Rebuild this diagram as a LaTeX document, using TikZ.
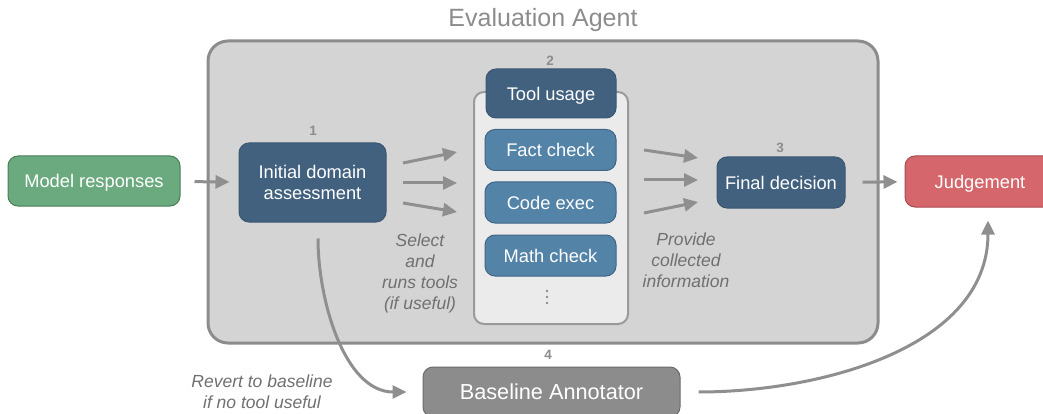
\documentclass[tikz,border=0pt]{standalone}
\usepackage{fontspec}
\setmainfont{Liberation Sans}
\usetikzlibrary{arrows.meta}
\definecolor{agentfill}{HTML}{D4D4D4}
\definecolor{agentedge}{HTML}{8C8C8C}
\definecolor{panelfill}{HTML}{EBEBEB}
\definecolor{paneledge}{HTML}{9A9A9A}
\definecolor{darkblue}{HTML}{41617F}
\definecolor{darkedge}{HTML}{3A5872}
\definecolor{toolblue}{HTML}{5483A8}
\definecolor{tooledge}{HTML}{3F6586}
\definecolor{modelgreen}{HTML}{6AAA7E}
\definecolor{modeledge}{HTML}{4A7D5A}
\definecolor{judgered}{HTML}{D4666C}
\definecolor{judgeedge}{HTML}{A84A50}
\definecolor{basegray}{HTML}{8C8C8C}
\definecolor{baseedge}{HTML}{6B6B6B}
\definecolor{arrowgray}{HTML}{8F8F8F}
\definecolor{notegray}{HTML}{707070}
\begin{document}
\begin{tikzpicture}[x=1pt,y=-1pt,
    box/.style={rounded corners=10pt, text=white, align=center, line width=1pt, text depth=0pt,
      font=\fontsize{18.3}{21}\selectfont},
    darkbox/.style={box, fill=darkblue, draw=darkedge},
    toolbox/.style={box, fill=toolblue, draw=tooledge, minimum width=131pt, minimum height=41pt},
    num/.style={text=agentedge, font=\fontsize{13.5}{13.5}\selectfont\bfseries},
    note/.style={text=notegray, align=center, font=\fontsize{17.5}{21}\selectfont\itshape},
    flow/.style={draw=arrowgray, line width=3pt, -{Triangle[length=14pt,width=13pt]}}]
\useasboundingbox (0,0) rectangle (1043,414);

% agent frame and tool panel
\node [text=agentedge, font=\fontsize{25}{25}\selectfont] (title) at (543,20) {Evaluation Agent};
\draw [fill=agentfill, draw=agentedge, line width=3pt, rounded corners=20pt] (208,41) rectangle (878,343);
\draw [fill=panelfill, draw=paneledge, line width=2pt, rounded corners=10pt] (474,92) rectangle (628,324);

% boxes
\node [box, fill=modelgreen, draw=modeledge, minimum width=172pt, minimum height=50pt] (model) at (94,181) {Model responses};
\node [darkbox, minimum width=147pt, minimum height=79pt] (init) at (312.5,182.5) {Initial domain\\assessment};
\node [darkbox, minimum width=130pt, minimum height=49pt] (tools) at (551,93.5) {Tool usage};
\node [toolbox] (fact) at (550.5,150) {Fact check};
\node [toolbox] (code) at (550.5,202.5) {Code exec};
\node [toolbox] (math) at (550.5,255.5) {Math check};
\foreach \y in {291,297,303}
  \fill [agentedge] (547,\y) circle (1.4pt);
\node [darkbox, minimum width=128pt, minimum height=51pt] (final) at (781,182.5) {Final decision};
\node [box, fill=judgered, draw=judgeedge, minimum width=150pt, minimum height=51pt] (judge) at (980,181.5) {Judgement};
\node [box, fill=basegray, draw=baseedge, minimum width=257pt, minimum height=50pt,
  font=\fontsize{21.7}{24}\selectfont] (base) at (551.5,392) {Baseline Annotator};

% step numbers
\node [num] (n1) at (313,131) {1};
\node [num] (n2) at (550,61) {2};
\node [num] (n3) at (780,148) {3};
\node [num] (n4) at (548,355) {4};

% notes
\node [note] (select) at (420,273) {Select\\and\\runs tools\\(if useful)};
\node [note] (provide) at (686,260) {Provide\\collected\\information};
\node [note] (revert) at (262,392) {Revert to baseline\\if no tool useful};

% arrow ends
\coordinate (s1) at (403,163); \coordinate (t1) at (457,152);
\coordinate (s2) at (403,183); \coordinate (t2) at (457,183);
\coordinate (s3) at (403,203); \coordinate (t3) at (457,212);
\coordinate (p1) at (644,150); \coordinate (q1) at (698,158);
\coordinate (p2) at (644,180); \coordinate (q2) at (698,180);
\coordinate (p3) at (644,213); \coordinate (q3) at (698,202);

% arrows
\draw [flow, shorten <=14pt, shorten >=9pt] (model) -- (init);
\draw [flow] (s1) -- (t1);
\draw [flow] (s2) -- (t2);
\draw [flow] (s3) -- (t3);
\draw [flow] (p1) -- (q1);
\draw [flow] (p2) -- (q2);
\draw [flow] (p3) -- (q3);
\draw [flow, shorten <=17pt, shorten >=7pt] (final) -- (judge);
\draw [flow, shorten <=16pt, shorten >=16pt] ([xshift=5.5pt]init.south) to[out=-90, in=180] (base.west);
\draw [flow, shorten <=18pt, shorten >=13pt] (base.east) to[out=0, in=-90] ([xshift=8pt]judge.south);
\end{tikzpicture}
\end{document}
